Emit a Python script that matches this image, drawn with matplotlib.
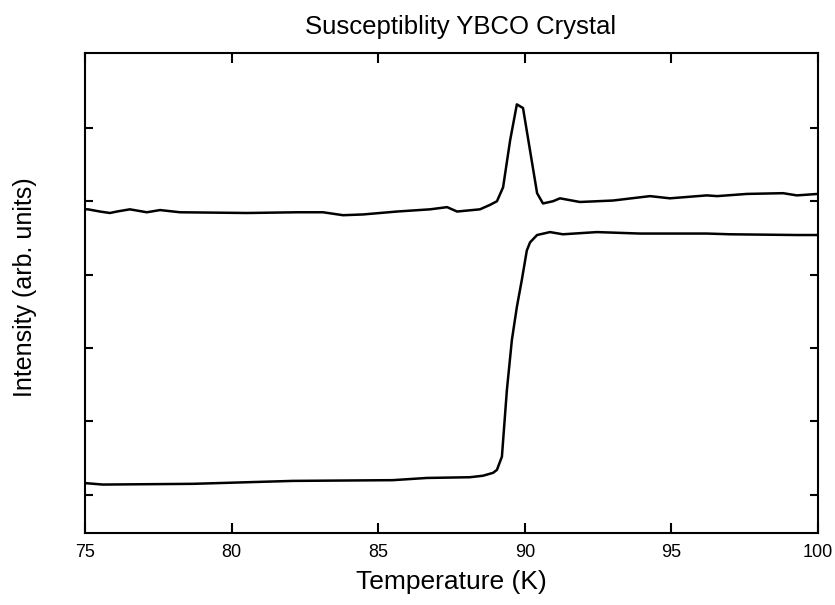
import numpy as np
import matplotlib
matplotlib.use('Agg')
import matplotlib.pyplot as plt

plt.rcParams['font.family'] = ['Liberation Sans', 'DejaVu Sans']

# curva superiore (picco)
temp_top = [75.00, 75.10, 75.51, 75.85, 76.09, 76.53, 77.11, 77.56, 78.24, 80.53,
            82.23, 83.12, 83.80, 84.48, 85.64, 86.77, 87.35, 87.69, 88.47, 88.81,
            89.05, 89.26, 89.50, 89.73, 89.94, 90.18, 90.42, 90.62, 90.96, 91.20,
            91.88, 93.01, 94.27, 94.95, 96.21, 96.56, 97.58, 98.81, 99.28, 100.0]
sig_top = [3.89, 3.89, 3.86, 3.84, 3.86, 3.89, 3.85, 3.88, 3.85, 3.84,
           3.85, 3.85, 3.81, 3.82, 3.86, 3.89, 3.92, 3.86, 3.89, 3.95,
           4.00, 4.19, 4.83, 5.32, 5.27, 4.69, 4.11, 3.97, 4.00, 4.04,
           3.99, 4.01, 4.07, 4.04, 4.08, 4.07, 4.10, 4.11, 4.08, 4.10]

# curva inferiore (transizione)
temp_bot = [75.00, 75.61, 78.68, 82.09, 85.50, 86.66, 88.13, 88.57, 88.92, 89.05,
            89.22, 89.39, 89.56, 89.73, 89.90, 90.07, 90.18, 90.42, 90.86, 91.30,
            92.46, 93.93, 96.21, 97.00, 99.28, 100.0]
sig_bot = [0.16, 0.14, 0.15, 0.19, 0.20, 0.23, 0.24, 0.26, 0.30, 0.34,
           0.52, 1.43, 2.11, 2.56, 2.93, 3.33, 3.44, 3.54, 3.58, 3.55,
           3.58, 3.56, 3.56, 3.55, 3.54, 3.54]

x_ticks = [75, 80, 85, 90, 95, 100]
y_ticks = [0, 1, 2, 3, 4, 5]

fig = plt.figure(figsize=(8.35, 6.05), dpi=100)
ax = fig.add_axes([0.1018, 0.119, 0.8778, 0.7934])

ax.plot(temp_top, sig_top, color='black', linewidth=1.8)
ax.plot(temp_bot, sig_bot, color='black', linewidth=1.8)

ax.set_xlim(75, 100)
ax.set_ylim(-0.52, 6.02)
ax.set_xticks(x_ticks)
ax.set_yticks(y_ticks)
ax.set_yticklabels([])
ax.tick_params(axis='x', direction='in', length=7, width=1.5, top=True,
               labelsize=13, pad=8)
ax.tick_params(axis='y', direction='in', length=6, width=1.5, right=True)
for s in ax.spines.values():
    s.set_linewidth(1.5)

ax.set_xlabel('Temperature (K)', fontsize=19)
ax.xaxis.set_label_coords(0.5, -0.077)
ax.set_ylabel('Intensity (arb. units)', fontsize=18)
ax.yaxis.set_label_coords(-0.066, 0.512)
ax.set_title('Susceptiblity YBCO Crystal', fontsize=18.5, pad=14, x=0.512)

fig.savefig('out.png', dpi=100)
plt.close(fig)
